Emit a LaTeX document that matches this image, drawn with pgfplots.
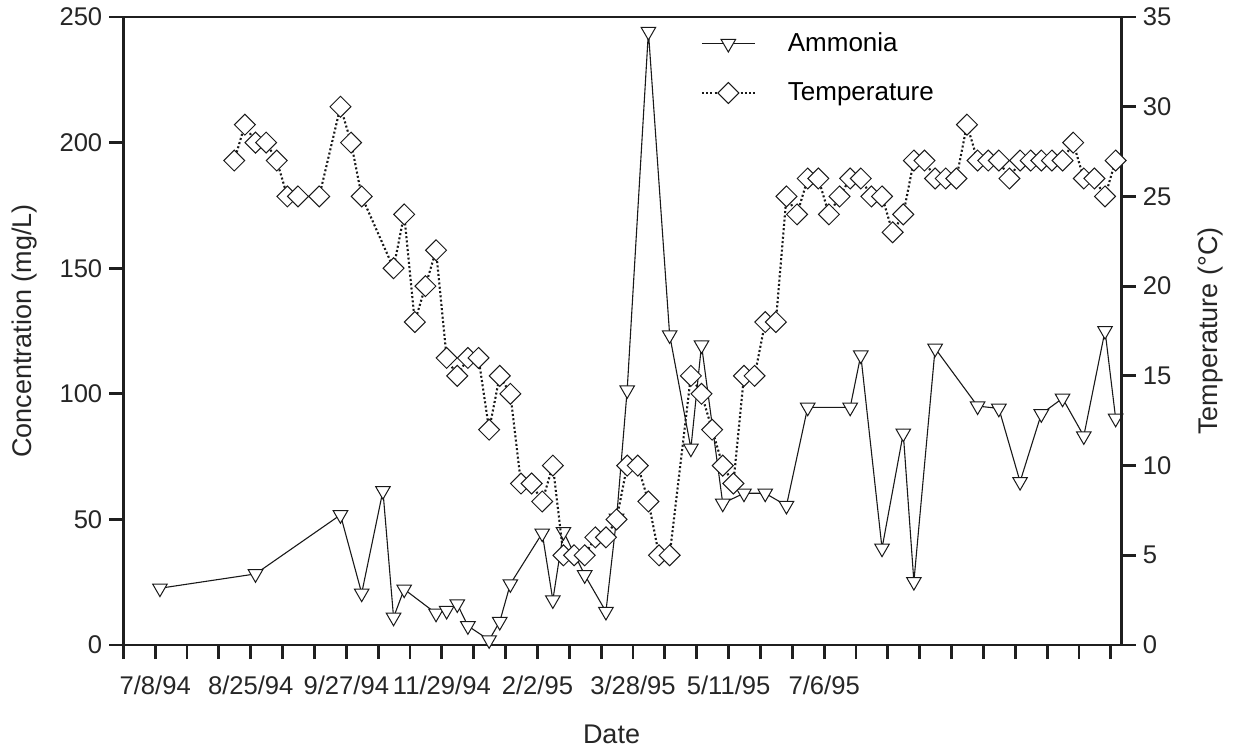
\documentclass[border=0pt]{standalone}
\usepackage{pgfplots}
\pgfplotsset{compat=1.18}
\usepackage{pgfplotstable}
\usepackage{fontspec}
\setmainfont{Liberation Sans}

\pgfplotstableread{
x y
3 22.6
12 28.3
20 51.8
22 20.6
24 61.4
25 11.0
26 22.2
29 12.6
30 13.7
31 16.3
32 7.6
34 2.0
35 9.3
36 24.3
39 44.5
40 17.9
41 45.1
43 27.9
45 13.3
46 50.4
47 101.5
49 244.2
51 123.4
53 78.3
54 119.4
56 56.4
58 60.4
60 60.4
62 55.5
64 94.6
68 94.6
69 115.4
71 38.5
73 84.3
74 25.2
76 118.1
80 95.1
82 94.2
84 65.0
86 92.0
88 98.2
90 83.2
92 125.1
93 90.2
}\ammonia

\pgfplotstableread{
x y
10 27
11 29
12 28
13 28
14 27
15 25
16 25
18 25
20 30
21 28
22 25
25 21
26 24
27 18
28 20
29 22
30 16
31 15
32 16
33 16
34 12
35 15
36 14
37 9
38 9
39 8
40 10
41 5
42 5
43 5
44 6
45 6
46 7
47 10
48 10
49 8
50 5
51 5
53 15
54 14
55 12
56 10
57 9
58 15
59 15
60 18
61 18
62 25
63 24
64 26
65 26
66 24
67 25
68 26
69 26
70 25
71 25
72 23
73 24
74 27
75 27
76 26
77 26
78 26
79 29
80 27
81 27
82 27
83 26
84 27
85 27
86 27
87 27
88 27
89 28
90 26
91 26
92 25
93 27
}\temperature

\begin{document}
\begin{tikzpicture}
\pgfplotsset{
  every axis/.append style={
    scale only axis, width=499.2pt, height=314pt,
    xmin=-0.45, xmax=93.57, clip=false,
    axis line style={line width=1.4pt, black!88},
    tick style={line width=1.4pt, black!88},
    major tick length=7pt,
    tick align=outside,
    ticklabel style={font=\fontsize{12.8}{15}\selectfont, text=black!85},
    label style={font=\fontsize{13.5}{16}\selectfont, text=black!85},
    /pgf/number format/assume math mode=true,
  },
  ammline/.style={black!90, line width=0.55pt},
  ammmark/.style={mark=triangle*, mark size=4.2pt,
    mark options={rotate=180, fill=white, draw=black!90, solid, line width=0.5pt}},
  templine/.style={black!90, line width=1.05pt, dash pattern=on 1pt off 1.15pt},
  tempmark/.style={mark=square*, mark size=3.7pt,
    mark options={rotate=45, fill=white, draw=black!90, solid, line width=0.5pt}},
}
\begin{axis}[
  name=ax,
  ymin=0, ymax=250, ytick={0,50,...,250},
  xtick={-0.45,2.55,...,92.55},
  xticklabels={,7/8/94,,,8/25/94,,,9/27/94,,,11/29/94,,,2/2/95,,,3/28/95,,,5/11/95,,,7/6/95,,,,,,,,,},
  xticklabel style={yshift=-5pt},
  xtick pos=left, ytick pos=left,
  xlabel={Date},
  ylabel={Concentration (mg/L)},
  xlabel style={at={(axis description cs:0.489,-0.1417)}, anchor=center},
  ylabel style={at={(axis description cs:-0.0985,0.5)}, anchor=center},
]
\addplot[ammline] table[x=x,y=y] {\ammonia};
\addplot[only marks, ammmark] table[x=x,y=y] {\ammonia};
\end{axis}
\begin{axis}[
  axis x line=none, axis y line*=right,
  ymin=0, ymax=35, ytick={0,5,...,35},
  ylabel={Temperature (\textdegree C)},
  ylabel style={at={(axis description cs:1.0885,0.5)}, anchor=center, rotate=0},
  legend style={draw=none, fill=none, at={(axis description cs:0.578,0.982)}, anchor=north west,
    font=\fontsize{13}{15}\selectfont, inner sep=0pt, row sep=10pt,
    /tikz/every odd column/.append style={column sep=14pt}},
  legend cell align=left,
  legend image code/.code={
    \draw[#1, mark=none] (0pt,0pt) -- (26.5pt,0pt);
    \draw[#1, draw=none] plot coordinates {(13.25pt,0pt)};
  },
]
\addlegendimage{ammline, ammmark}
\addlegendentry{Ammonia}
\addlegendimage{templine, tempmark}
\addlegendentry{Temperature}
\addplot[templine, forget plot] table[x=x,y=y] {\temperature};
\addplot[only marks, tempmark, forget plot] table[x=x,y=y] {\temperature};
\end{axis}
\pgfresetboundingbox
\path[use as bounding box] (ax.south west) ++(-61.65pt,-53.5pt) rectangle ++(617.5pt,376pt);
\end{tikzpicture}
\end{document}
